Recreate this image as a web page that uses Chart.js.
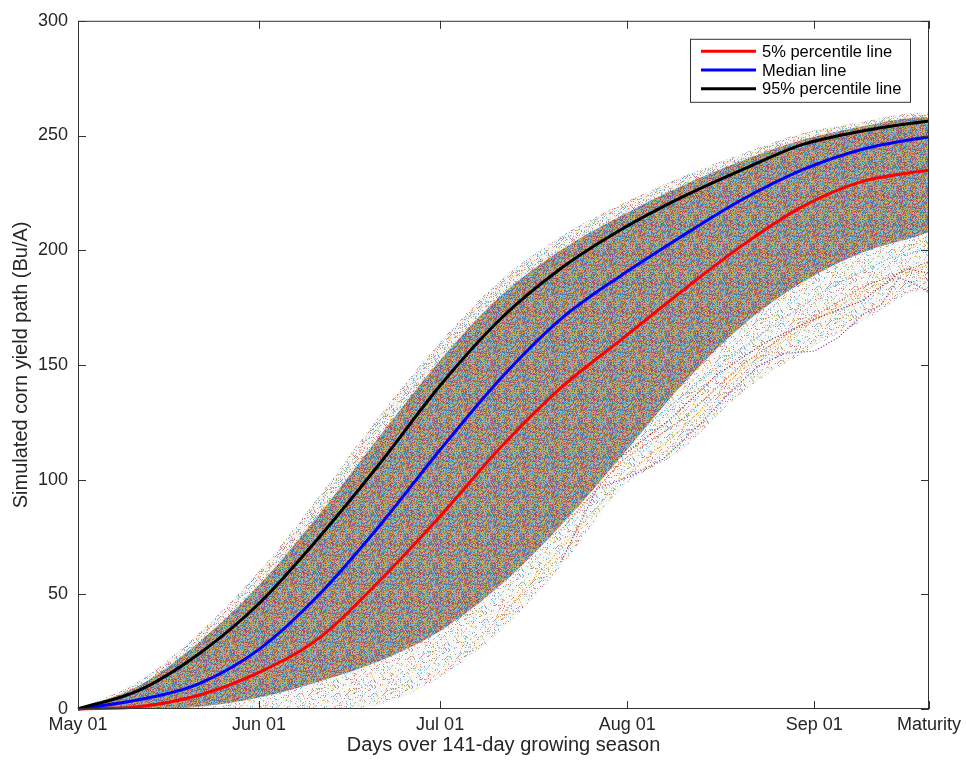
<!DOCTYPE html>
<html>
<head>
<meta charset="utf-8">
<script src="https://cdn.jsdelivr.net/npm/chart.js@4.4.1/dist/chart.umd.min.js"></script>
<style>
html,body{margin:0;padding:0;background:#ffffff;}
#wrap{width:966px;height:760px;position:relative;}
</style>
</head>
<body>
<div id="wrap"><canvas id="c" width="966" height="760"></canvas></div>
<script>
// ---------------- data ----------------
const days = [0, 10, 20, 30, 40, 50, 60, 70, 80, 90, 100, 110, 120, 130, 140, 141];
const pct95Line  = [0, 8, 24, 46, 75, 107, 141, 170, 192, 209, 223, 235, 246, 252, 256, 256.3];
const medianLine = [0, 4, 11, 26, 50, 80, 113, 144, 170, 189, 206, 222, 235, 244, 249, 249.3];
const pct5Line   = [0, 1, 6, 16, 31, 56, 84, 114, 140, 161, 182, 202, 219, 230, 234.5, 234.8];

// envelope of the simulated paths (outer fringe and dense core)
const upperEdge = [0, 12, 33, 60, 93, 128, 160, 187, 206, 220, 232, 242, 251, 256, 260, 260];
const upperCore = [0, 10, 29, 54, 85, 119, 152, 180, 200, 215, 228, 239, 248, 254, 258, 258];
const lowerCore = [0, 0, 1, 5, 12, 21, 34, 54, 80, 110, 141, 167, 186, 199, 207, 208];
const lowerEdge = [0, 0, 0, 0, 0, 2, 14, 34, 62, 96, 113, 138, 155, 169, 182, 181];

// a few individually visible low simulated paths
const outlierDaysA = [80, 86, 92, 97, 103, 108, 113, 117, 122, 126, 130, 133, 136, 138, 141];
const outlierValsA = [64, 96, 102, 109, 124, 138, 150, 155, 156, 162, 172, 176, 188, 186, 182];
const outlierDaysB = [80, 90, 100, 110, 120, 130, 141];
const outlierValsB = [78, 108, 126, 150, 168, 184, 195];
const outlierDaysC = [84, 94, 104, 114, 124, 134, 141];
const outlierValsC = [98, 123, 145, 165, 183, 196, 201];
const outlierDaysD = [90, 98, 106, 114, 122, 130, 137, 141];
const outlierValsD = [110, 126, 146, 160, 170, 178, 192, 190];
const outlierDaysE = [70, 80, 90, 100, 110, 120, 130, 141];
const outlierValsE = [40, 70, 100, 122, 148, 166, 182, 194];

const tickDays   = [0, 30, 60, 91, 122, 141];
const tickLabels = ['May 01', 'Jun 01', 'Jul 01', 'Aug 01', 'Sep 01', 'Maturity'];
const yTickValues = [0, 50, 100, 150, 200, 250, 300];

const seriesLabels = ['95% percentile line', 'Median line', '5% percentile line'];

// ---------------- styling helpers ----------------
const FONT = "'Liberation Sans', Arial, Helvetica, sans-serif";
const AXIS = '#333333';
const palette = ['#0072BD', '#D95319', '#EDB120', '#7E2F8E', '#77AC30', '#4DBEEE', '#A2142F'];

function makeTexture(cover, size, base, alpha) {
  const cv = document.createElement('canvas');
  cv.width = size; cv.height = size;
  const g = cv.getContext('2d');
  if (base) { g.fillStyle = base; g.fillRect(0, 0, size, size); }
  g.globalAlpha = alpha;
  for (let y = 0; y < size; y++) {
    for (let x = 0; x < size; x++) {
      let h = (Math.imul(x + 1, 73856093) ^ Math.imul(y + 7, 19349663)) >>> 0;
      h = (h ^ (h >>> 13)) >>> 0;
      h = Math.imul(h, 1274126177) >>> 0;
      if ((h % 100) < cover) {
        g.fillStyle = palette[(h >>> 9) % palette.length];
        g.fillRect(x, y, 1, 1);
      }
    }
  }
  const ctx = document.createElement('canvas').getContext('2d');
  return ctx.createPattern(cv, 'repeat');
}
const denseTex = makeTexture(84, 29, 'rgba(140,138,125,0.7)', 0.62);
const fringeTex = makeTexture(26, 31, 'rgba(170,165,150,0.12)', 0.55);
const lowTex = makeTexture(16, 37, 'rgba(170,165,150,0.10)', 0.55);

const pts = (xs, ys) => xs.map((x, i) => ({ x: x, y: ys[i] }));

function bandSet(vals, tex, fill) {
  return {
    label: '', data: pts(days, vals), borderWidth: 0, borderColor: 'rgba(0,0,0,0)',
    backgroundColor: tex, fill: fill, pointRadius: 0, cubicInterpolationMode: 'monotone', order: 6
  };
}
function outlierSet(xs, ys, col) {
  return {
    label: '', data: pts(xs, ys), borderColor: col, borderWidth: 1.2, borderDash: [1, 2],
    pointRadius: 0, fill: false, tension: 0, order: 4
  };
}
function mainSet(label, vals, col, ord) {
  return {
    label: label, data: pts(days, vals), borderColor: col, borderWidth: 3, pointRadius: 0,
    fill: false, cubicInterpolationMode: 'monotone', order: ord, clip: 3
  };
}

const datasets = [
  mainSet(seriesLabels[0], pct95Line, '#000000', 0),
  mainSet(seriesLabels[1], medianLine, '#0000FF', 1),
  mainSet(seriesLabels[2], pct5Line, '#FF0000', 2),
  outlierSet(outlierDaysA, outlierValsA, '#7E2F8E'),
  outlierSet(outlierDaysB, outlierValsB, '#D95319'),
  outlierSet(outlierDaysC, outlierValsC, '#4DBEEE'),
  outlierSet(outlierDaysD, outlierValsD, '#A2142F'),
  outlierSet(outlierDaysE, outlierValsE, '#EDB120'),
  bandSet(upperEdge, fringeTex, '+1'),
  bandSet(upperCore, denseTex, '+1'),
  bandSet(lowerCore, lowTex, '+1'),
  bandSet(lowerEdge, lowTex, false)
];

// box, inward ticks and legend
const boxPlugin = {
  id: 'matlabBox',
  afterDraw(chart) {
    const { ctx, chartArea: a, scales } = chart;
    ctx.save();
    ctx.strokeStyle = AXIS;
    ctx.lineWidth = 1;
    ctx.strokeRect(a.left + 0.5, a.top + 0.5, a.right - a.left - 1, a.bottom - a.top - 1);
    const tl = 8;
    ctx.beginPath();
    scales.x.ticks.forEach(t => {
      const px = Math.round(scales.x.getPixelForValue(t.value)) + 0.5;
      ctx.moveTo(px, a.bottom); ctx.lineTo(px, a.bottom - tl);
      ctx.moveTo(px, a.top); ctx.lineTo(px, a.top + tl);
    });
    scales.y.ticks.forEach(t => {
      const py = Math.round(scales.y.getPixelForValue(t.value)) + 0.5;
      ctx.moveTo(a.left, py); ctx.lineTo(a.left + tl, py);
      ctx.moveTo(a.right, py); ctx.lineTo(a.right - tl, py);
    });
    ctx.stroke();

    // legend
    const order = [2, 1, 0];
    const lx = a.right - 239, ly = a.top + 18, lw = 221, lh = 64;
    ctx.fillStyle = '#ffffff';
    ctx.fillRect(lx, ly, lw, lh);
    ctx.strokeStyle = AXIS;
    ctx.lineWidth = 1;
    ctx.strokeRect(lx + 0.5, ly + 0.5, lw - 1, lh - 1);
    ctx.font = '16.5px ' + FONT;
    ctx.textBaseline = 'middle';
    ctx.textAlign = 'left';
    order.forEach((di, k) => {
      const ds = chart.data.datasets[di];
      const ry = ly + 12.5 + k * 18.7;
      ctx.strokeStyle = ds.borderColor;
      ctx.lineWidth = 3;
      ctx.beginPath(); ctx.moveTo(lx + 11, ry); ctx.lineTo(lx + 66, ry); ctx.stroke();
      ctx.fillStyle = '#000000';
      ctx.fillText(ds.label, lx + 72, ry + 1);
    });
    ctx.restore();
  }
};

new Chart(document.getElementById('c'), {
  type: 'line',
  data: { datasets: datasets },
  options: {
    responsive: false,
    animation: false,
    devicePixelRatio: 1,
    layout: { padding: { top: 16, right: 34, left: 0, bottom: 0 } },
    plugins: { legend: { display: false }, tooltip: { enabled: false }, filler: { propagate: false } },
    scales: {
      x: {
        type: 'linear', min: 0, max: 141,
        grid: { display: false, drawTicks: false },
        border: { display: false },
        afterBuildTicks: s => { s.ticks = tickDays.map(v => ({ value: v })); },
        afterFit: s => { s.height = 51; },
        ticks: {
          autoSkip: false, maxRotation: 0, padding: 5, color: '#262626',
          font: { family: FONT, size: 18 },
          callback: v => { const i = tickDays.indexOf(v); return i >= 0 ? tickLabels[i] : ''; }
        },
        title: {
          display: true, text: 'Days over 141-day growing season', color: '#262626',
          font: { family: FONT, size: 20, lineHeight: 1.2 }, padding: { top: 0, bottom: 3 }
        }
      },
      y: {
        type: 'linear', min: 0, max: 300,
        grid: { display: false, drawTicks: false },
        border: { display: false },
        afterBuildTicks: s => { s.ticks = yTickValues.map(v => ({ value: v })); },
        afterFit: s => { s.width = 78; },
        ticks: { padding: 10, color: '#262626', font: { family: FONT, size: 18 } },
        title: {
          display: true, text: 'Simulated corn yield path (Bu/A)', color: '#262626',
          font: { family: FONT, size: 20, lineHeight: 1.2 }, padding: { top: 9, bottom: 0 }
        }
      }
    }
  },
  plugins: [boxPlugin]
});
</script>
</body>
</html>
